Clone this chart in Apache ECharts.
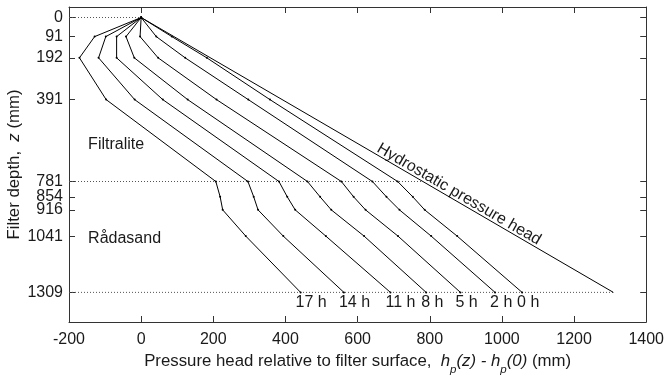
<!DOCTYPE html>
<html>
<head>
<meta charset="utf-8">
<script src="https://cdn.jsdelivr.net/npm/echarts@6/dist/echarts.min.js"></script>
<style>html,body{margin:0;padding:0;background:#fff;}#c{width:667px;height:382px;}</style>
</head>
<body>
<div id="c"></div>
<script>
// Depths (mm) at which the pressure heads were measured
const depths = [0, 91, 192, 391, 781, 854, 916, 1041, 1309];
// Pressure head relative to filter surface (mm), one array per time
const h0h  = [0, 85, 182, 357, 711, 753, 786, 876, 1056];
const h2h  = [0, 42, 122, 297, 641, 680, 716, 804, 981];
const h5h  = [0, -3, 47, 209, 555, 589, 622, 712, 885];
const h8h  = [0, -42, -19, 129, 461, 496, 527, 618, 790];
const h11h = [0, -68, -68, 60, 382, 405, 427, 512, 691];
const h14h = [0, -98, -118, -18, 296, 312, 324, 394, 562];
const h17h = [0, -129, -171, -97, 207, 219, 226, 290, 442];
const timeLabels = ['0 h', '2 h', '5 h', '8 h', '11 h', '14 h', '17 h'];
// Hydrostatic pressure head: equals depth
const hydroDepths = [0, 1309];
// Depths with dotted reference lines
const refDepths = [0, 781, 1309];
// Tick values
const xTicks = { min: -200, max: 1400, interval: 200 };
const yTickValues = [0, 91, 192, 391, 781, 854, 916, 1041, 1309];

const FONT = 'Liberation Sans';
const TXT = '#1a1a1a';
const AX = '#333333';
const NS = 16.8;

const profiles = [h0h, h2h, h5h, h8h, h11h, h14h, h17h];

const series = [];
profiles.forEach((arr, k) => {
  const data = depths.map((d, i) => [arr[i], d]);
  const last = data.length - 1;
  data[last] = {
    value: data[last],
    label: {
      show: true, formatter: timeLabels[k], position: 'bottom', distance: 1,
      align: 'left', offset: [-5, 0], fontFamily: FONT, fontSize: 16, color: TXT
    }
  };
  series.push({
    type: 'line', data: data, symbol: 'circle', symbolSize: 2, showSymbol: true,
    lineStyle: { color: '#000', width: 1 }, itemStyle: { color: '#000' },
    z: 3, silent: true
  });
});
series.push({
  type: 'line', data: hydroDepths.map(d => [d, d]), showSymbol: false,
  lineStyle: { color: '#000', width: 1 }, z: 3, silent: true
});
refDepths.forEach(d => {
  series.push({
    type: 'line', data: [[xTicks.min, d], [d, d]], showSymbol: false,
    lineStyle: { color: '#555', width: 1, type: [1, 2] }, z: 2, silent: true
  });
});

const axisCommon = {
  axisLine: { show: true, onZero: false, lineStyle: { color: AX, width: 1 } },
  axisTick: { show: true, inside: true, length: 6, lineStyle: { color: AX } },
  splitLine: { show: false }
};

const chart = echarts.init(document.getElementById('c'));
const option = {
  animation: false,
  backgroundColor: '#fff',
  grid: { left: 69, right: 19, top: 7, bottom: 60 },
  xAxis: [
    Object.assign({}, axisCommon, {
      type: 'value', position: 'bottom', min: xTicks.min, max: xTicks.max, interval: xTicks.interval,
      axisLabel: { show: true, fontFamily: FONT, fontSize: 16, color: TXT, margin: 10, formatter: v => String(v) },
      name: '{n|Pressure head relative to filter surface,  }{i|h}{s|p}{i|(z) - h}{s|p}{i|(0)}{n| (mm)}',
      nameLocation: 'middle', nameGap: 26,
      nameTextStyle: {
        fontFamily: FONT, fontSize: NS, color: TXT,
        rich: {
          n: { fontFamily: FONT, fontSize: NS, color: TXT, lineHeight: 21, verticalAlign: 'top' },
          i: { fontFamily: FONT, fontSize: NS, color: TXT, fontStyle: 'italic', lineHeight: 21, verticalAlign: 'top' },
          s: { fontFamily: FONT, fontSize: 11.5, color: TXT, fontStyle: 'italic', lineHeight: 11, padding: [11, 0, 0, 0], verticalAlign: 'top' }
        }
      }
    }),
    Object.assign({}, axisCommon, {
      type: 'value', position: 'top', min: xTicks.min, max: xTicks.max, interval: xTicks.interval,
      axisLabel: { show: false }
    })
  ],
  yAxis: [
    Object.assign({}, axisCommon, {
      type: 'value', position: 'left', inverse: true, min: -50, max: 1450,
      axisTick: { show: true, inside: true, length: 6, lineStyle: { color: AX }, customValues: yTickValues },
      axisLabel: { show: true, fontFamily: FONT, fontSize: 16, color: TXT, margin: 6, customValues: yTickValues, formatter: v => String(v) }
    }),
    Object.assign({}, axisCommon, {
      type: 'value', position: 'right', inverse: true, min: -50, max: 1450,
      axisTick: { show: true, inside: true, length: 6, lineStyle: { color: AX }, customValues: yTickValues },
      axisLabel: { show: false, customValues: yTickValues }
    })
  ],
  series: series
};
chart.setOption(option);

const px = (x, y) => chart.convertToPixel({ xAxisIndex: 0, yAxisIndex: 0 }, [x, y]);
const pA = px(0, 0), pB = px(hydroDepths[1], hydroDepths[1]);
const ang = Math.atan2(pB[1] - pA[1], pB[0] - pA[0]);
const pF = px(-147, 607), pR = px(-147, 1054), pH = px(870, 870);
const pTop = px(0, -50), pBot = px(0, 1450);
chart.setOption({
  graphic: [
    { type: 'text', x: pF[0], y: pF[1], style: { text: 'Filtralite', fontFamily: FONT, fontSize: 16, fill: TXT, verticalAlign: 'middle', align: 'left' } },
    { type: 'text', x: pR[0], y: pR[1], style: { text: 'Rådasand', fontFamily: FONT, fontSize: 16, fill: TXT, verticalAlign: 'middle', align: 'left' } },
    { type: 'text', x: pH[0], y: pH[1] + 1, rotation: -ang, style: { text: 'Hydrostatic pressure head', fontFamily: FONT, fontSize: 16, fill: TXT, verticalAlign: 'bottom', align: 'center' } },
    { type: 'text', x: 14, y: (pTop[1] + pBot[1]) / 2, rotation: Math.PI / 2,
      style: {
        text: '{n|Filter depth,  }{i|z}{n| (mm)}', align: 'center', verticalAlign: 'middle',
        rich: {
          n: { fontFamily: FONT, fontSize: NS, fill: TXT },
          i: { fontFamily: FONT, fontSize: NS, fill: TXT, fontStyle: 'italic' }
        }
      } }
  ]
});
</script>
</body>
</html>
